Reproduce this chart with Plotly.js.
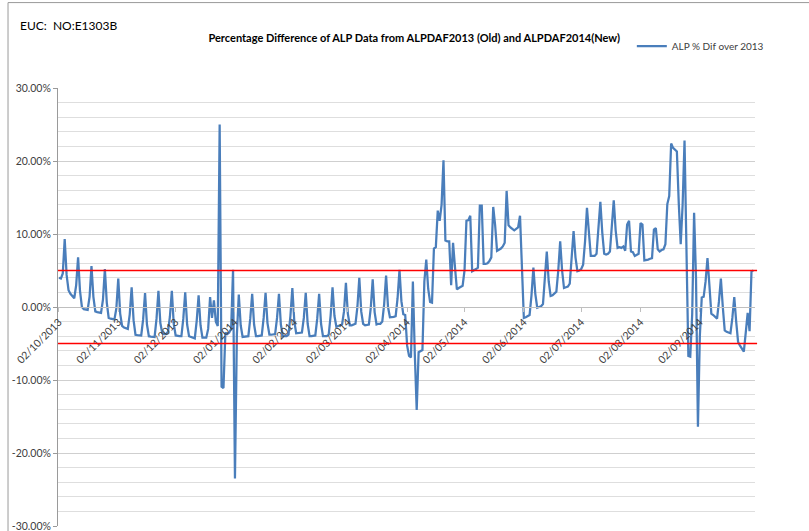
<!DOCTYPE html>
<html>
<head>
<meta charset="utf-8">
<script src="https://cdn.plot.ly/plotly-3.0.1.min.js"></script>
<style>
html,body{margin:0;padding:0;background:#fff;}
#chart{width:809px;height:531px;}
</style>
</head>
<body>
<div id="chart"></div>
<script>
// ---- data (daily % difference, starting 02/10/2013) ----
const startYear = 2013, startMonth = 10, startDay = 2;
const oct2013 = [4.0,3.9,4.6,9.3,4.4,2.3,1.8,1.5,1.2,3.0,6.8,2.2,0.0,-0.3,-0.4,-0.4,1.4,5.6,1.4,-0.6,-0.7,-0.8,-0.8,1.0,5.2,0.6,-1.5,-1.6,-1.7,-1.7];
const nov2013 = [-0.2,3.9,-0.9,-2.6,-2.8,-2.9,-3.0,-1.0,2.7,-1.8,-3.8,-3.85,-3.9,-3.9,-1.7,1.9,-2.4,-4.0,-4.05,-4.1,-4.1,-1.6,2.2,-2.2,-3.6,-3.7,-3.7,-3.4,-1.3,2.2];
const dec2013 = [-2.3,-3.9,-4.0,-4.0,-4.0,-1.6,2.0,-2.4,-4.0,-4.1,-4.2,-4.3,-1.9,1.6,-2.5,-4.2,-4.2,-4.2,-3.0,1.35,-1.5,0.9,-2.0,-2.6,25.0,-10.9,-11.1,-3.5,-3.7,-3.5,-3.0];
const jan2014 = [5.1,-23.5,-3.8,1.7,-2.5,-4.1,-4.1,-4.1,-4.0,-1.6,1.8,-2.4,-4.0,-4.0,-4.0,-3.9,-1.5,1.95,-2.2,-3.8,-3.8,-3.8,-3.7,-1.5,1.8,-2.4,-4.0,-4.0,-4.0,-3.8,-1.2];
const feb2014 = [2.6,-1.9,-3.6,-3.6,-3.6,-3.5,-1.5,1.95,-2.3,-4.0,-4.0,-4.0,-3.9,-1.6,1.8,-2.3,-4.0,-4.0,-4.0,-3.8,-1.2,2.7,-1.2,-2.7,-2.6,-2.5,-2.4,-0.6];
const mar2014 = [3.3,-0.9,-2.5,-2.5,-2.4,-2.3,0.0,4.0,-0.6,-2.3,-2.5,-2.5,-2.4,-0.1,3.8,-0.7,-2.4,-2.3,-2.3,-2.0,0.4,4.3,0.0,-1.4,-1.4,-1.35,-1.25,1.2,5.1,0.8,-1.0];
const apr2014 = [-1.1,-5.3,-6.7,-6.9,3.5,-6.4,-14.1,-6.2,-6.1,-5.9,3.5,6.5,2.5,0.7,0.6,8.0,8.2,13.2,11.8,14.0,20.1,9.1,9.0,9.0,3.0,8.8,5.5,2.4,2.6,2.7];
const may2014 = [2.9,5.0,11.8,11.9,12.5,4.9,5.0,5.2,5.4,13.9,13.9,5.9,5.9,6.0,6.3,6.8,13.7,11.2,7.7,7.8,8.0,8.3,8.8,15.9,11.2,10.9,10.7,10.5,10.7,10.9,12.5];
const jun2014 = [4.0,-1.5,-1.4,-1.2,-1.1,1.6,5.4,1.8,-0.1,0.0,0.1,0.4,3.6,7.6,3.5,1.5,1.6,1.8,2.1,5.0,9.0,5.0,2.6,2.7,2.8,3.2,6.3,10.4,6.8,4.9];
const jul2014 = [5.0,5.2,5.8,9.0,13.6,9.5,7.0,7.0,7.0,7.3,10.5,14.4,10.2,7.3,7.2,7.3,7.6,10.8,14.6,10.5,8.1,8.2,8.1,8.3,7.7,11.3,11.8,7.6,7.5,7.0,7.2];
const aug2014 = [7.3,11.5,11.3,6.4,6.4,6.5,6.6,6.7,10.6,10.8,7.9,7.6,7.8,7.9,8.6,14.1,15.2,22.4,21.8,21.5,21.3,14.1,8.6,14.0,22.8,8.0,-6.7,-6.8,-1.0,12.9,4.0];
const sep2014 = [-16.4,-4.0,1.3,1.4,3.5,6.7,3.0,-0.9,-1.1,-1.3,-1.6,0.8,3.9,0.0,-3.2,-3.4,-3.5,-3.6,-1.5,1.35,-2.0,-4.8,-5.3,-5.7,-6.1,-3.5,-0.8,-3.3,4.9,5.0];

const seriesName = 'ALP % Dif over 2013';
const thresholds = [5, -5];
const yTickVals = [-30, -20, -10, 0, 10, 20, 30];
const yTickText = ['-30.00%', '-20.00%', '-10.00%', '0.00%', '10.00%', '20.00%', '30.00%'];
const chartTitle = 'Percentage Difference of ALP Data from ALPDAF2013 (Old) and ALPDAF2014(New)';
const eucLabel = 'EUC:\u00a0\u00a0NO:E1303B';

// ---- build ----
const values = [].concat(oct2013, nov2013, dec2013, jan2014, feb2014, mar2014,
                         apr2014, may2014, jun2014, jul2014, aug2014, sep2014);
const dates = values.map((v, i) => {
  const d = new Date(Date.UTC(startYear, startMonth - 1, startDay + i));
  return d.toISOString().slice(0, 10);
});

const FONT = 'Lato, "Open Sans", sans-serif';

const trace = {
  x: dates, y: values, type: 'scatter', mode: 'lines', name: seriesName,
  line: {color: '#4A7EBB', width: 2.25}, hoverinfo: 'x+y'
};

const shapes = thresholds.map(t => ({
  type: 'line', xref: 'paper', x0: 0, x1: 1.003, yref: 'y', y0: t, y1: t,
  line: {color: '#FF0000', width: 1.5}
}));
// chart-area frame (left and top edges)
shapes.push({type: 'line', xref: 'paper', yref: 'paper', x0: -0.0717, x1: -0.0717, y0: -0.02, y1: 1.195,
  line: {color: '#9a9a9a', width: 1}});
shapes.push({type: 'line', xref: 'paper', yref: 'paper', x0: -0.0717, x1: 1.08, y0: 1.195, y1: 1.195,
  line: {color: '#9a9a9a', width: 1}});

const layout = {
  width: 809, height: 531,
  margin: {l: 58, r: 54, t: 88, b: 5, autoexpand: false},
  paper_bgcolor: '#fff', plot_bgcolor: '#fff',
  font: {family: FONT, size: 10, color: '#595959'},
  title: {
    text: '<b>' + chartTitle + '</b>',
    font: {family: FONT, size: 11, color: '#000'},
    xref: 'container', x: 0.512, xanchor: 'center',
    yref: 'container', y: 1 - 38 / 531, yanchor: 'middle'
  },
  showlegend: true,
  legend: {
    xref: 'container', yref: 'container',
    x: 0.781, y: 1 - 46 / 531, xanchor: 'left', yanchor: 'middle',
    font: {family: FONT, size: 10, color: '#404040'},
    bgcolor: 'rgba(0,0,0,0)'
  },
  xaxis: {
    type: 'date',
    range: ['2013-10-01 12:00', '2014-09-30 20:00'],
    anchor: 'free', position: 0.5,
    tick0: '2013-10-02', dtick: 'M1', tickformat: '%d/%m/%Y',
    tickangle: -45,
    tickfont: {family: FONT, size: 10.5, color: '#404040'},
    ticks: 'outside', ticklen: 4, tickcolor: '#bfbfbf',
    showgrid: false, zeroline: false,
    showline: true, linecolor: '#bfbfbf', linewidth: 1
  },
  yaxis: {
    range: [-30, 30],
    tickmode: 'array', tickvals: yTickVals, ticktext: yTickText,
    tickfont: {family: FONT, size: 10.5, color: '#404040'},
    ticklabeloverflow: 'allow',
    ticks: 'outside', ticklen: 4, tickcolor: '#9a9a9a',
    showline: true, linecolor: '#9a9a9a', linewidth: 1,
    showgrid: true, gridcolor: '#cfcfcf', gridwidth: 1,
    zeroline: false,
    minor: {tickmode: 'linear', tick0: 0, dtick: 2, showgrid: true, gridcolor: '#dedede', gridwidth: 1, ticks: ''}
  },
  shapes: shapes,
  annotations: [{
    text: eucLabel, xref: 'paper', yref: 'paper',
    x: -0.0574, y: (526 - 25) / 438, xanchor: 'left', yanchor: 'middle',
    showarrow: false, font: {family: FONT, size: 12, color: '#000'}
  }]
};

Plotly.newPlot('chart', [trace], layout, {displayModeBar: false, staticPlot: true});
</script>
</body>
</html>
